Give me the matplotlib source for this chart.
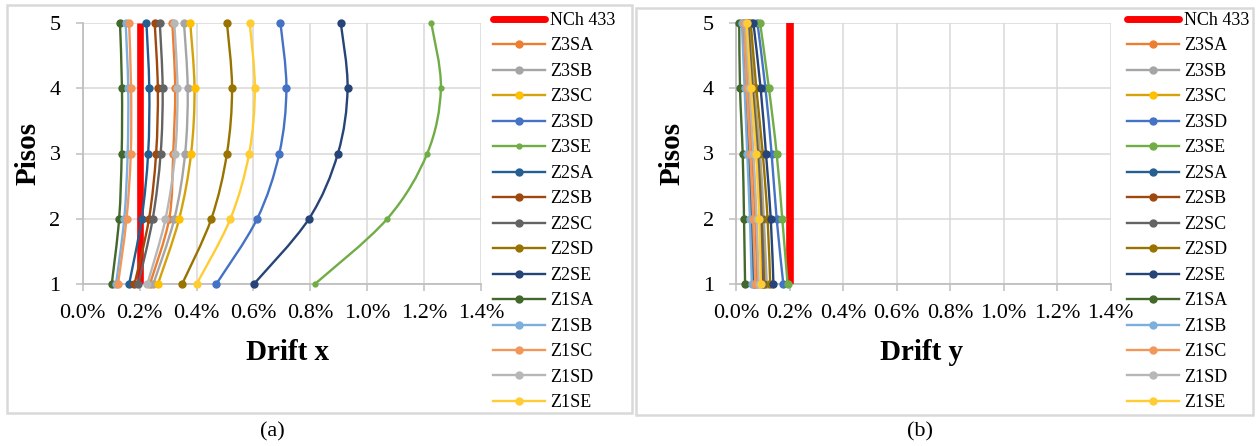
import numpy as np
import matplotlib
matplotlib.use("Agg")
import matplotlib.pyplot as plt
from matplotlib.path import Path
from matplotlib.patches import PathPatch, Rectangle
from matplotlib.lines import Line2D
from matplotlib.ticker import FuncFormatter, MultipleLocator

plt.rcParams['font.family'] = ['Liberation Serif', 'DejaVu Serif']

W, H = 1259, 446

# pisos (floors) 1..5
pisos = [1, 2, 3, 4, 5]
nch_433 = [0.2, 0.2, 0.2, 0.2, 0.2]   # limite de la norma, en %

nombres = ['Z3SA', 'Z3SB', 'Z3SC', 'Z3SD', 'Z3SE',
           'Z2SA', 'Z2SB', 'Z2SC', 'Z2SD', 'Z2SE',
           'Z1SA', 'Z1SB', 'Z1SC', 'Z1SD', 'Z1SE']

# drift x en %, piso 1 a 5
x_Z3SA = [0.236, 0.304, 0.318, 0.325, 0.315]
x_Z3SB = [0.248, 0.322, 0.360, 0.369, 0.356]
x_Z3SC = [0.264, 0.339, 0.381, 0.393, 0.378]
x_Z3SD = [0.469, 0.613, 0.691, 0.716, 0.695]
x_Z3SE = [0.815, 1.070, 1.211, 1.259, 1.225]
x_Z2SA = [0.163, 0.207, 0.230, 0.234, 0.224]
x_Z2SB = [0.182, 0.233, 0.258, 0.264, 0.253]
x_Z2SC = [0.195, 0.246, 0.274, 0.281, 0.271]
x_Z2SD = [0.349, 0.452, 0.507, 0.525, 0.507]
x_Z2SE = [0.601, 0.795, 0.897, 0.931, 0.907]
x_Z1SA = [0.102, 0.128, 0.137, 0.138, 0.131]
x_Z1SB = [0.117, 0.146, 0.158, 0.160, 0.151]
x_Z1SC = [0.124, 0.154, 0.169, 0.170, 0.163]
x_Z1SD = [0.227, 0.291, 0.325, 0.333, 0.322]
x_Z1SE = [0.400, 0.519, 0.585, 0.605, 0.587]

# drift y en %, piso 1 a 5
y_Z3SA = [0.080, 0.072, 0.060, 0.046, 0.032]
y_Z3SB = [0.115, 0.104, 0.090, 0.068, 0.050]
y_Z3SC = [0.108, 0.098, 0.084, 0.064, 0.045]
y_Z3SD = [0.177, 0.152, 0.133, 0.110, 0.080]
y_Z3SE = [0.193, 0.173, 0.152, 0.123, 0.090]
y_Z2SA = [0.066, 0.058, 0.048, 0.036, 0.026]
y_Z2SB = [0.098, 0.090, 0.077, 0.058, 0.042]
y_Z2SC = [0.105, 0.096, 0.082, 0.062, 0.046]
y_Z2SD = [0.128, 0.118, 0.100, 0.076, 0.055]
y_Z2SE = [0.140, 0.130, 0.112, 0.092, 0.065]
y_Z1SA = [0.034, 0.030, 0.025, 0.015, 0.012]
y_Z1SB = [0.059, 0.052, 0.042, 0.032, 0.022]
y_Z1SC = [0.072, 0.064, 0.053, 0.040, 0.030]
y_Z1SD = [0.085, 0.077, 0.065, 0.050, 0.036]
y_Z1SE = [0.093, 0.087, 0.075, 0.056, 0.040]

drift_x = [x_Z3SA, x_Z3SB, x_Z3SC, x_Z3SD, x_Z3SE, x_Z2SA, x_Z2SB, x_Z2SC,
           x_Z2SD, x_Z2SE, x_Z1SA, x_Z1SB, x_Z1SC, x_Z1SD, x_Z1SE]
drift_y = [y_Z3SA, y_Z3SB, y_Z3SC, y_Z3SD, y_Z3SE, y_Z2SA, y_Z2SB, y_Z2SC,
           y_Z2SD, y_Z2SE, y_Z1SA, y_Z1SB, y_Z1SC, y_Z1SD, y_Z1SE]

colores = ['#ED7D31', '#A5A5A5', '#D4A20A', '#4472C4', '#70AD47',
           '#255E91', '#9E480E', '#636363', '#997300', '#264478',
           '#43682B', '#7CAFDD', '#F1975A', '#B7B7B7', '#FFCD33']
colores_marca = ['#ED7D31', '#A5A5A5', '#FFC000', '#4472C4', '#70AD47',
                 '#255E91', '#9E480E', '#636363', '#997300', '#264478',
                 '#43682B', '#7CAFDD', '#F1975A', '#B7B7B7', '#FFCD33']


def px(x, y):
    return x / W, 1 - y / H


def curva_suave(xs, ys):
    # curva tipo Excel (Catmull-Rom -> Bezier) que pasa por los puntos
    p = np.column_stack([xs, ys])
    n = len(p)
    verts = [p[0]]
    codes = [Path.MOVETO]
    for i in range(n - 1):
        p0 = p[max(i - 1, 0)]
        p1 = p[i]
        p2 = p[i + 1]
        p3 = p[min(i + 2, n - 1)]
        verts += [p1 + (p2 - p0) / 6, p2 - (p3 - p1) / 6, p2]
        codes += [Path.CURVE4] * 3
    return Path(verts, codes)


def panel(ax, datos, ms_z3se, legend_x, nch_lw):
    z = 3
    ax.plot(nch_433, pisos, color='#FF0000', lw=nch_lw, solid_capstyle='butt', zorder=z)
    handles = [Line2D([], [], color='#FF0000', lw=5, solid_capstyle='round')]
    for i, nom in enumerate(nombres):
        z += 1
        ms = ms_z3se if nom == 'Z3SE' else 5
        ax.add_patch(PathPatch(curva_suave(datos[i], pisos), fc='none', ec=colores[i],
                               lw=1.7, joinstyle='round', capstyle='round', zorder=z))
        ax.plot(datos[i], pisos, ls='none', marker='o', ms=ms, color=colores_marca[i],
                mec=colores_marca[i], zorder=z, clip_on=False)
        handles.append(Line2D([], [], color=colores[i], lw=1.7, marker='o', ms=ms,
                              mfc=colores_marca[i], mec=colores_marca[i]))

    ax.set_xlim(0, 1.4)
    ax.set_ylim(1, 5)
    ax.xaxis.set_major_locator(MultipleLocator(0.2))
    ax.yaxis.set_major_locator(MultipleLocator(1))
    ax.xaxis.set_major_formatter(FuncFormatter(lambda v, p: f'{v:.1f}%'))
    ax.grid(True, color='#D9D9D9', lw=1.1, zorder=0)
    ax.set_axisbelow(True)
    for s in ['top', 'right']:
        ax.spines[s].set_visible(False)
    for s in ['left', 'bottom']:
        ax.spines[s].set_color('#BFBFBF')
        ax.spines[s].set_linewidth(1.3)
    ax.tick_params(axis='both', direction='out', length=5, width=1.1, color='#BFBFBF',
                   labelsize=16)
    ax.tick_params(axis='y', pad=11)
    ax.tick_params(axis='x', pad=9)

    ax.legend(handles, ['NCh 433'] + nombres, loc='upper left',
              bbox_to_anchor=px(legend_x, 12), bbox_transform=fig.transFigure,
              frameon=False, fontsize=13, handlelength=2.9, handletextpad=0.25,
              labelspacing=0.47, borderpad=0, borderaxespad=0)


fig = plt.figure(figsize=(W / 100, H / 100), dpi=100)

ax1 = fig.add_axes([82.7 / W, 1 - 284.3 / H, (481 - 82.7) / W, (284.3 - 22.7) / H])
ax2 = fig.add_axes([736 / W, 1 - 284.3 / H, (1110.5 - 736) / W, (284.3 - 22.7) / H])

panel(ax1, drift_x, 3.5, 493, 4.8)
panel(ax2, drift_y, 5, 1127, 5.5)

# marcos de cada panel
fig.add_artist(Rectangle(px(7, 413), 625 / W, 408 / H, transform=fig.transFigure,
                         fill=False, ec='#D9D9D9', lw=1.8))
fig.add_artist(Rectangle(px(636, 415), 617 / W, 407 / H, transform=fig.transFigure,
                         fill=False, ec='#D9D9D9', lw=1.8))

fig.text(*px(28, 153), 'Pisos', rotation=90, ha='center', va='center',
         fontsize=21, fontweight='bold')
fig.text(*px(672, 153), 'Pisos', rotation=90, ha='center', va='center',
         fontsize=21, fontweight='bold')
fig.text(*px(287, 352), 'Drift x', ha='center', va='center', fontsize=21, fontweight='bold')
fig.text(*px(922, 352), 'Drift y', ha='center', va='center', fontsize=21, fontweight='bold')
fig.text(*px(272, 432), '(a)', ha='center', va='center', fontsize=16)
fig.text(*px(920, 432), '(b)', ha='center', va='center', fontsize=16)

fig.savefig('out.png', dpi=100)
